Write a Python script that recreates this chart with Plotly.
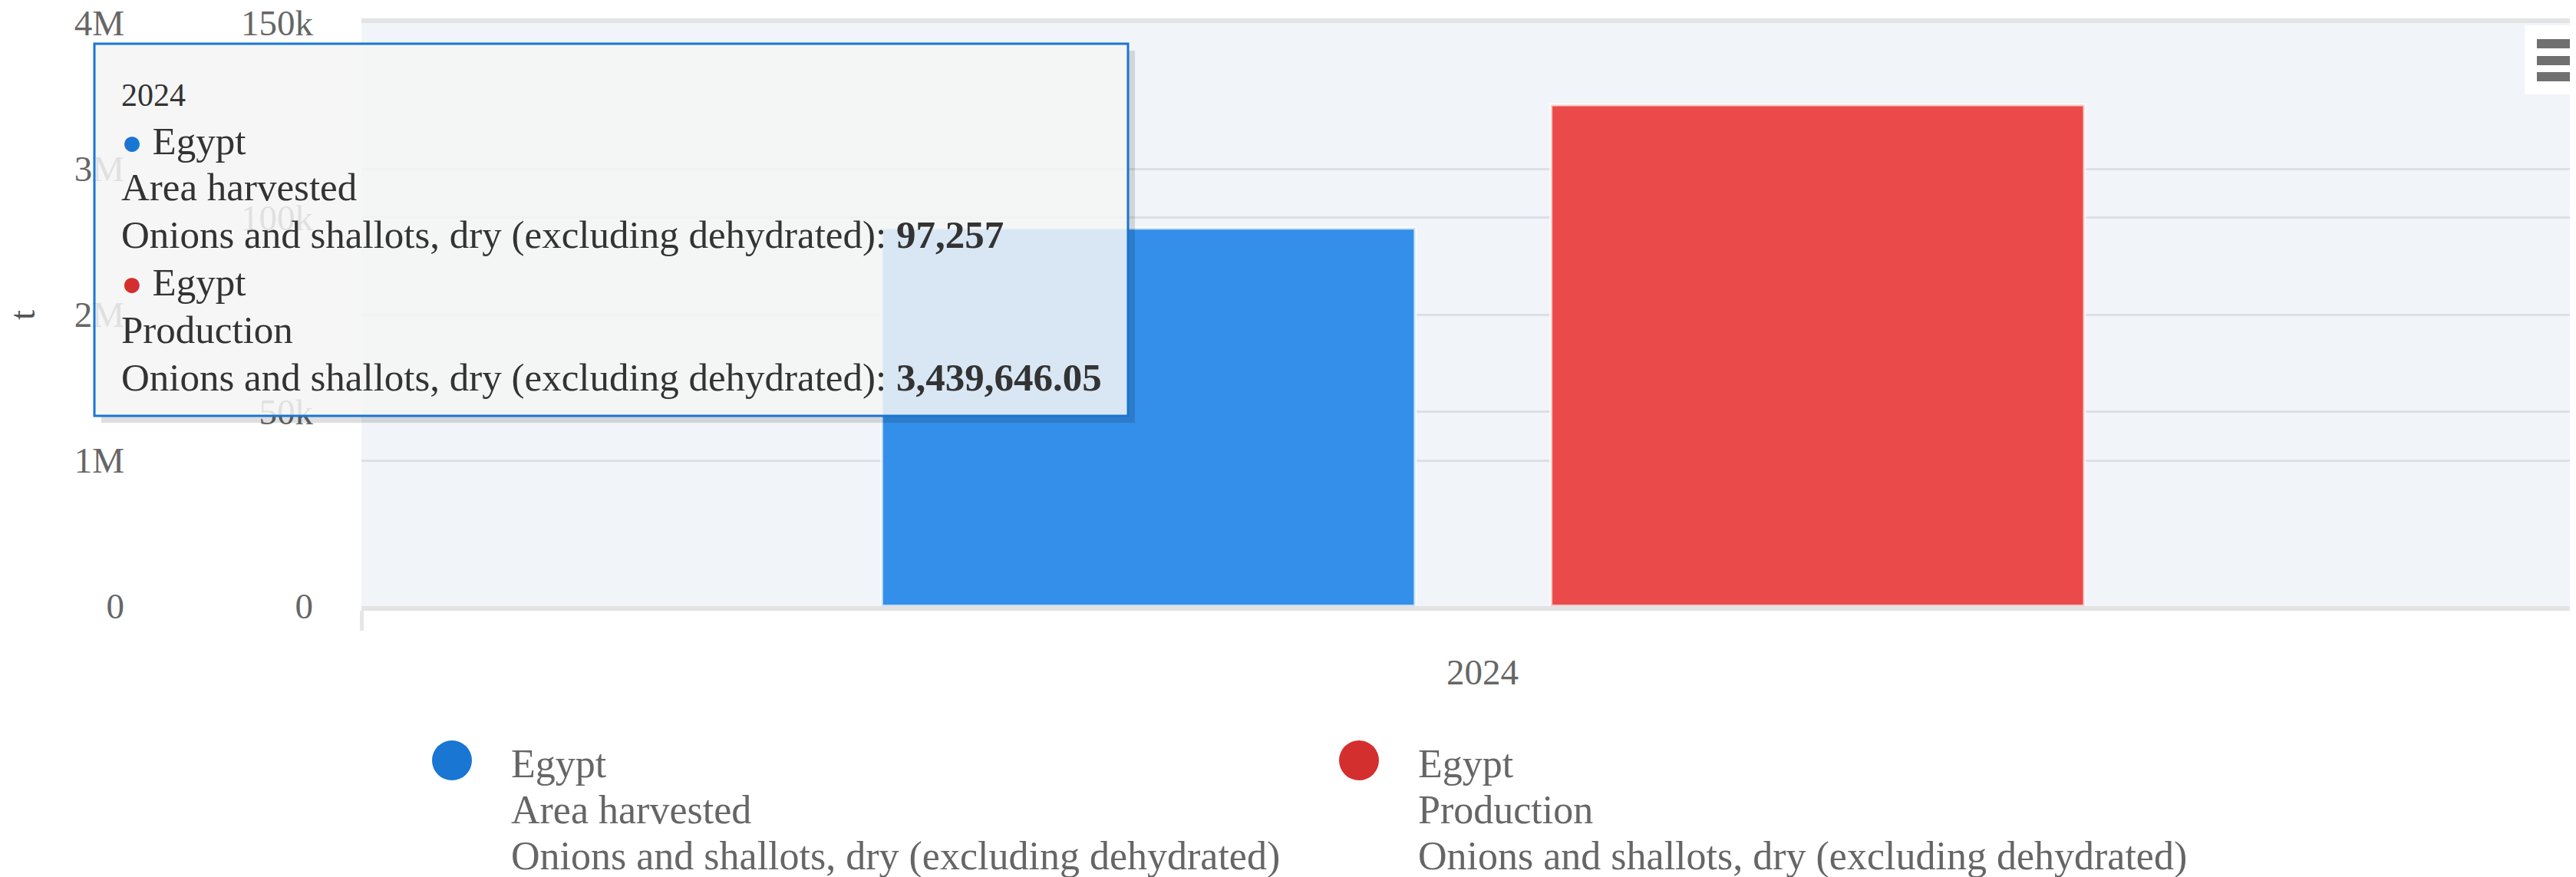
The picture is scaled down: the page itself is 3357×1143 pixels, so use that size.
import plotly.graph_objects as go

W, H = 3357, 1143
OFF = 8  # page body margin around the plot div
FW, FH = W - OFF, H - OFF

# data
years = ["2024"]
countries = ["Egypt", "Egypt"]
elements = ["Area harvested", "Production"]
item = "Onions and shallots, dry (excluding dehydrated)"
area_harvested = [97257]
production = [3439646.05]
value_labels = ["97,257", "3,439,646.05"]
unit = "t"

bar_colors = ["#338fe9", "#eb4a4a"]
dot_colors = ["#1976d2", "#d32f2f"]
font_family = "Liberation Serif"


# screen pixel -> paper helpers (figure uses zero margins)
def px(x):
    return (x - OFF) / FW


def py(y):
    return 1 - (y - OFF) / FH


fig = go.Figure()

fig.add_trace(go.Bar(
    x=years,
    y=area_harvested,
    name=f"{countries[0]}<br>{elements[0]}<br>{item}",
    marker=dict(color=bar_colors[0], line=dict(width=4, color="rgba(255,255,255,0.7)")),
    width=0.238,
    offset=-0.268,
    yaxis="y2",
    showlegend=False,
))
fig.add_trace(go.Bar(
    x=years,
    y=production,
    name=f"{countries[1]}<br>{elements[1]}<br>{item}",
    marker=dict(color=bar_colors[1], line=dict(width=4, color="rgba(255,255,255,0.7)")),
    width=0.238,
    offset=0.0305,
    yaxis="y",
    showlegend=False,
))

axis_font = dict(family=font_family, size=47, color="#666666")

fig.update_layout(
    width=FW,
    height=FH,
    margin=dict(l=0, r=0, t=0, b=0, autoexpand=False),
    paper_bgcolor="white",
    plot_bgcolor="#f1f4f9",
    font=dict(family=font_family, size=47, color="#666666"),
    showlegend=False,
    xaxis=dict(
        type="category",
        domain=[px(471), 1],
        range=[-0.5, 0.4877],
        automargin=False,
        showgrid=False,
        showline=True,
        mirror=True,
        linecolor="#e3e3e3",
        linewidth=6,
        ticks="outside",
        tickson="boundaries",
        ticklen=26,
        tickwidth=5,
        tickcolor="#e6e6e6",
        ticklabelstandoff=40,
        tickfont=axis_font,
    ),
    yaxis=dict(
        domain=[py(790), py(30)],
        range=[0, 4000000],
        dtick=1000000,
        tickformat="~s",
        anchor="free",
        position=px(162),
        side="left",
        automargin=False,
        ticklabeloverflow="allow",
        showgrid=True,
        gridcolor="#dce0e6",
        gridwidth=3,
        zeroline=False,
        showline=False,
        ticks="",
        tickfont=axis_font,
    ),
    yaxis2=dict(
        overlaying="y",
        anchor="x",
        side="left",
        range=[0, 150000],
        dtick=50000,
        tickformat="~s",
        automargin=False,
        ticklabeloverflow="allow",
        showgrid=True,
        gridcolor="#dce0e6",
        gridwidth=3,
        zeroline=False,
        showline=False,
        ticks="",
        ticklabelstandoff=62,
        tickfont=axis_font,
    ),
)

shapes = []

# tooltip shadow + box
shapes.append(dict(type="rect", xref="paper", yref="paper", layer="above",
                   x0=px(1470), x1=px(1479), y0=py(66), y1=py(551),
                   fillcolor="rgba(0,0,0,0.13)", line=dict(width=0)))
shapes.append(dict(type="rect", xref="paper", yref="paper", layer="above",
                   x0=px(132), x1=px(1470), y0=py(542), y1=py(551),
                   fillcolor="rgba(0,0,0,0.13)", line=dict(width=0)))
shapes.append(dict(type="rect", xref="paper", yref="paper", layer="above",
                   x0=px(123), x1=px(1470), y0=py(57), y1=py(542),
                   fillcolor="rgba(244,245,245,0.86)",
                   line=dict(color="#1976d2", width=3)))

# legend markers
legend_x = [589, 1771]
for cx, col in zip(legend_x, dot_colors):
    shapes.append(dict(type="circle", xref="paper", yref="paper",
                       x0=px(cx - 26), x1=px(cx + 26), y0=py(965), y1=py(1017),
                       fillcolor=col, line=dict(width=0)))

# menu button (top right)
shapes.append(dict(type="rect", xref="paper", yref="paper", layer="above",
                   x0=px(3290), x1=1, y0=py(33), y1=py(123),
                   fillcolor="white", line=dict(width=0)))
for y0 in [51, 73, 94]:
    shapes.append(dict(type="rect", xref="paper", yref="paper", layer="above",
                       x0=px(3306), x1=1, y0=py(y0), y1=py(y0 + 12),
                       fillcolor="#707070", line=dict(width=0)))

fig.update_layout(shapes=shapes)


def text_line(x, y, text, size, color):
    fig.add_annotation(
        xref="paper", yref="paper",
        x=px(x), y=py(y),
        xanchor="left", yanchor="middle",
        text=text,
        align="left",
        showarrow=False,
        borderpad=0,
        font=dict(family=font_family, size=size, color=color),
    )


# y axis unit label
fig.add_annotation(
    xref="paper", yref="paper",
    x=px(29), y=py(411),
    xanchor="center", yanchor="middle",
    text=unit, textangle=-90,
    showarrow=False,
    font=dict(family=font_family, size=47, color="#555555"),
)

# tooltip text, one annotation per line
tip_lines = [(years[0], 42)]
for i in range(2):
    tip_lines.append((f"<span style='color:{dot_colors[i]};font-size:46px'>●</span> {countries[i]}", 51))
    tip_lines.append((elements[i], 51))
    tip_lines.append((f"{item}: <b>{value_labels[i]}</b>", 51))
tip_y = [124, 184, 244, 306, 368, 430, 492]
for (txt, size), yy in zip(tip_lines, tip_y):
    text_line(157, yy, txt, size, "#333333")

# legend text
legend_text_x = [665, 1847]
legend_y = [995, 1055, 1116]
for i in range(2):
    for txt, yy in zip([countries[i], elements[i], item], legend_y):
        text_line(legend_text_x[i], yy, txt, 52, "#666666")

fig.write_html("out.html", config={"displayModeBar": False})
